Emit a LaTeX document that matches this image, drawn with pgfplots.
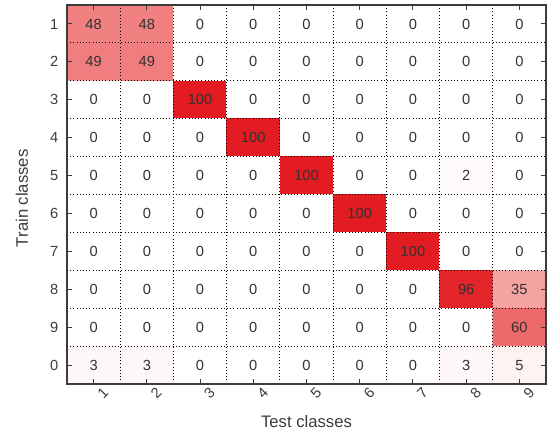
\documentclass[border=0pt]{standalone}
\usepackage{pgfplots}
\pgfplotsset{compat=1.18}
\usepackage{fontspec}
\setmainfont{Liberation Sans}
\definecolor{axgray}{RGB}{60,60,60}
\definecolor{txtgray}{RGB}{50,50,50}
\begin{document}
\begin{tikzpicture}
\useasboundingbox (-50.25pt,-34.5pt) rectangle (360.75pt,288pt);
\begin{axis}[
  at={(0,0)}, anchor=south west,
  scale only axis,
  width=359.25pt, height=284.25pt,
  xmin=0.5, xmax=9.5, ymin=0.5, ymax=10.5,
  y dir=reverse,
  xtick={1,...,9},
  ytick={1,...,10},
  yticklabels={1,2,3,4,5,6,7,8,9,0},
  minor xtick={1.5,2.5,...,8.5},
  minor ytick={1.5,2.5,...,9.5},
  xminorgrids, yminorgrids,
  minor grid style={black, dotted, line width=0.8pt},
  minor tick length=0pt,
  major tick length=3.5pt,
  tick align=inside,
  tick pos=both,
  axis on top,
  axis line style={axgray, line width=0.8pt},
  every tick/.style={axgray, line width=0.8pt},
  colormap={wr}{rgb255(0cm)=(255,255,255) rgb255(48cm)=(241,128,128) rgb255(100cm)=(226,28,34)},
  point meta min=0, point meta max=100,
  /pgf/number format/assume math mode=true,
  tick label style={font=\fontsize{11}{13}\selectfont, text=axgray},
  xticklabel style={rotate=45, anchor=center, yshift=-10pt},
  yticklabel style={xshift=-3pt},
  xlabel={Test classes},
  ylabel={Train classes},
  label style={font=\fontsize{12.5}{15}\selectfont, text=axgray},
  xlabel style={at={(axis description cs:0.5,-0.098)}, anchor=center},
  ylabel style={at={(axis description cs:-0.094,0.49)}, anchor=center},
]
\pgfplotstableread{
x y c
1 1 48
2 1 48
3 1 0
4 1 0
5 1 0
6 1 0
7 1 0
8 1 0
9 1 0
1 2 49
2 2 49
3 2 0
4 2 0
5 2 0
6 2 0
7 2 0
8 2 0
9 2 0
1 3 0
2 3 0
3 3 100
4 3 0
5 3 0
6 3 0
7 3 0
8 3 0
9 3 0
1 4 0
2 4 0
3 4 0
4 4 100
5 4 0
6 4 0
7 4 0
8 4 0
9 4 0
1 5 0
2 5 0
3 5 0
4 5 0
5 5 100
6 5 0
7 5 0
8 5 2
9 5 0
1 6 0
2 6 0
3 6 0
4 6 0
5 6 0
6 6 100
7 6 0
8 6 0
9 6 0
1 7 0
2 7 0
3 7 0
4 7 0
5 7 0
6 7 0
7 7 100
8 7 0
9 7 0
1 8 0
2 8 0
3 8 0
4 8 0
5 8 0
6 8 0
7 8 0
8 8 96
9 8 35
1 9 0
2 9 0
3 9 0
4 9 0
5 9 0
6 9 0
7 9 0
8 9 0
9 9 60
1 10 3
2 10 3
3 10 0
4 10 0
5 10 0
6 10 0
7 10 0
8 10 3
9 10 5
}\cm
\addplot[matrix plot*, mesh/cols=9, point meta=explicit] table[x=x, y=y, meta=c] {\cm};
\addplot[draw=none, nodes near coords, point meta=explicit symbolic,
  nodes near coords align=center,
  every node near coord/.style={font=\fontsize{11}{13}\selectfont, text=txtgray, anchor=center}]
  table[x=x, y=y, meta=c] {\cm};
\end{axis}
\end{tikzpicture}
\end{document}
